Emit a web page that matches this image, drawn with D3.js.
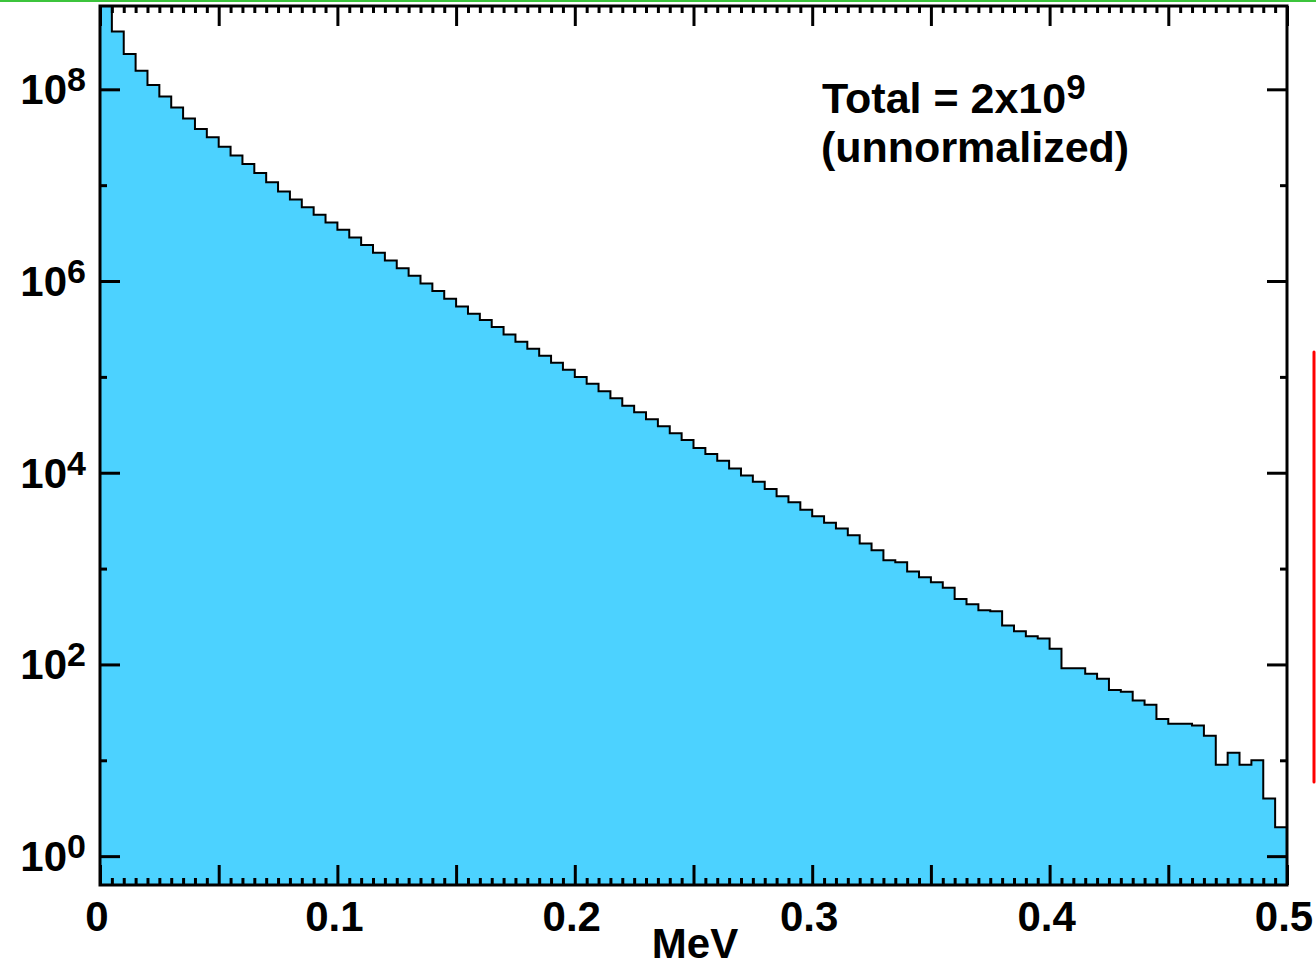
<!DOCTYPE html>
<html>
<head>
<meta charset="utf-8">
<script src="https://cdn.jsdelivr.net/npm/d3@7"></script>
<style>
  html, body { margin: 0; padding: 0; background: #fff; }
  svg { display: block; }
  text { font-family: "Liberation Sans", Arial, Helvetica, sans-serif; font-weight: bold; fill: #000; }
</style>
</head>
<body>
<svg id="chart" width="1316" height="968"></svg>
<script>
// Energy deposit spectrum: 100 bins of 0.005 MeV from 0 to 0.5 MeV (counts per bin)
const energyRange = [0, 0.5];
const binWidth = 0.005;
const counts = [
  8.0e8, 4.0e8, 2.33e8, 1.56e8, 1.11e8, 8.41e7, 6.46e7, 4.95e7, 3.85e7, 3.16e7,
  2.51e7, 2.04e7, 1.66e7, 1.34e7, 1.07e7, 8.59e6, 7.08e6, 5.89e6, 4.90e6, 4.07e6,
  3.43e6, 2.85e6, 2.37e6, 1.97e6, 1.64e6, 1.36e6, 1.135e6, 9.44e5, 7.87e5, 6.53e5,
  5.43e5, 4.56e5, 3.92e5, 3.31e5, 2.77e5, 2.33e5, 1.97e5, 1.66e5, 1.40e5, 1.19e5,
  1.00e5, 8.49e4, 7.06e4, 5.97e4, 5.01e4, 4.27e4, 3.61e4, 3.05e4, 2.58e4, 2.20e4,
  1.81e4, 1.57e4, 1.33e4, 1.11e4, 9333, 8072, 6776, 5675, 4909, 4121,
  3508, 2999, 2612, 2223, 1824, 1552, 1222, 1164, 931, 811,
  719, 630, 483, 425, 367, 359, 255, 222, 197, 186,
  146, 91, 91, 80, 71, 54, 52, 42, 38, 27,
  24, 24, 23, 18, 9, 12, 9, 10, 4, 2
];
const countRange = [0.5, 7.4e8];

const xMajorTicks = [0, 0.05, 0.1, 0.15, 0.2, 0.25, 0.3, 0.35, 0.4, 0.45, 0.5];
const xLabelValues = [0, 0.1, 0.2, 0.3, 0.4, 0.5];
const xTickLabels = ["0", "0.1", "0.2", "0.3", "0.4", "0.5"];
const yLabelExponents = [0, 2, 4, 6, 8];
const yMinorExponents = [1, 3, 5, 7];
const xAxisTitle = "MeV";
const noteLine1 = ["Total = 2x10", "9"];
const noteLine2 = "(unnormalized)";

const svg = d3.select("#chart");
const W = 1316, H = 968;
const plot = { left: 100, right: 1287, top: 6, bottom: 885 };

const x = d3.scaleLinear().domain(energyRange).range([plot.left, plot.right]);
const y = d3.scaleLog().domain(countRange).range([plot.bottom, plot.top]);

// Thin green rule along the top edge of the page
svg.append("line")
  .attr("x1", 0).attr("x2", W).attr("y1", 1).attr("y2", 1)
  .attr("stroke", "#3cc43c").attr("stroke-width", 2);

svg.append("defs").append("clipPath").attr("id", "plot-clip")
  .append("rect")
  .attr("x", plot.left).attr("y", plot.top)
  .attr("width", plot.right - plot.left).attr("height", plot.bottom - plot.top);

// Step histogram: each bin starts at its lower edge; extra point closes the last bin
const steps = counts.map((c, i) => [i * binWidth, c]);
steps.push([energyRange[1], counts[counts.length - 1]]);

const area = d3.area()
  .x(d => x(d[0]))
  .y0(y(countRange[0]))
  .y1(d => y(d[1]))
  .curve(d3.curveStepAfter);

const line = d3.line()
  .x(d => x(d[0]))
  .y(d => y(d[1]))
  .curve(d3.curveStepAfter);

const hist = svg.append("g").attr("clip-path", "url(#plot-clip)");
hist.append("path").datum(steps)
  .attr("d", area)
  .attr("fill", "#4cd2ff");
hist.append("path").datum(steps)
  .attr("d", line)
  .attr("fill", "none")
  .attr("stroke", "#000")
  .attr("stroke-width", 2);

// Axis ticks (pointing into the plot on all four sides)
function styleAxis(g) {
  g.select(".domain").remove();
  g.selectAll(".tick line").attr("stroke", "#000").attr("stroke-width", 3);
  g.selectAll(".tick text").remove();
}

const xMinorTicks = d3.range(0, 101).map(i => i * binWidth)
  .filter(v => !xMajorTicks.some(m => Math.abs(m - v) < 1e-9));

svg.append("g").attr("transform", `translate(0,${plot.bottom})`)
  .call(d3.axisBottom(x).tickValues(xMajorTicks).tickSize(-20).tickSizeOuter(0)).call(styleAxis);
svg.append("g").attr("transform", `translate(0,${plot.bottom})`)
  .call(d3.axisBottom(x).tickValues(xMinorTicks).tickSize(-7).tickSizeOuter(0)).call(styleAxis);
svg.append("g").attr("transform", `translate(0,${plot.top})`)
  .call(d3.axisTop(x).tickValues(xMajorTicks).tickSize(-20).tickSizeOuter(0)).call(styleAxis);
svg.append("g").attr("transform", `translate(0,${plot.top})`)
  .call(d3.axisTop(x).tickValues(xMinorTicks).tickSize(-7).tickSizeOuter(0)).call(styleAxis);

const yMajor = yLabelExponents.map(e => Math.pow(10, e));
const yMinor = yMinorExponents.map(e => Math.pow(10, e));
svg.append("g").attr("transform", `translate(${plot.left},0)`)
  .call(d3.axisLeft(y).tickValues(yMajor).tickSize(-20).tickSizeOuter(0)).call(styleAxis);
svg.append("g").attr("transform", `translate(${plot.left},0)`)
  .call(d3.axisLeft(y).tickValues(yMinor).tickSize(-7).tickSizeOuter(0)).call(styleAxis);
svg.append("g").attr("transform", `translate(${plot.right},0)`)
  .call(d3.axisRight(y).tickValues(yMajor).tickSize(-20).tickSizeOuter(0)).call(styleAxis);
svg.append("g").attr("transform", `translate(${plot.right},0)`)
  .call(d3.axisRight(y).tickValues(yMinor).tickSize(-7).tickSizeOuter(0)).call(styleAxis);

// Plot frame
svg.append("rect")
  .attr("x", plot.left).attr("y", plot.top)
  .attr("width", plot.right - plot.left).attr("height", plot.bottom - plot.top)
  .attr("fill", "none").attr("stroke", "#000").attr("stroke-width", 3);

// X tick labels
svg.append("g").selectAll("text")
  .data(xLabelValues)
  .join("text")
  .attr("x", d => x(d) - 3)
  .attr("y", 931)
  .attr("text-anchor", "middle")
  .attr("font-size", 42)
  .text((d, i) => xTickLabels[i]);

// Y tick labels as powers of ten
const yLabels = svg.append("g").selectAll("text")
  .data(yLabelExponents)
  .join("text")
  .attr("x", 86)
  .attr("y", d => y(Math.pow(10, d)) + 15)
  .attr("text-anchor", "end")
  .attr("font-size", 42);
yLabels.append("tspan").text("10");
yLabels.append("tspan").attr("dy", -13).attr("font-size", 34).text(d => d);

// X axis title
svg.append("text")
  .attr("x", 695).attr("y", 958)
  .attr("text-anchor", "middle")
  .attr("font-size", 42)
  .text(xAxisTitle);

// Annotation
const note1 = svg.append("text").attr("x", 822).attr("y", 113).attr("font-size", 43);
note1.append("tspan").text(noteLine1[0]);
note1.append("tspan").attr("dy", -14).attr("font-size", 35).text(noteLine1[1]);
svg.append("text").attr("x", 821).attr("y", 162).attr("font-size", 43).text(noteLine2);

// Red vertical marker at the right edge
svg.append("line")
  .attr("x1", 1314).attr("x2", 1314).attr("y1", 352).attr("y2", 782)
  .attr("stroke", "#ff0000").attr("stroke-width", 3).attr("stroke-linecap", "round");
</script>
</body>
</html>
